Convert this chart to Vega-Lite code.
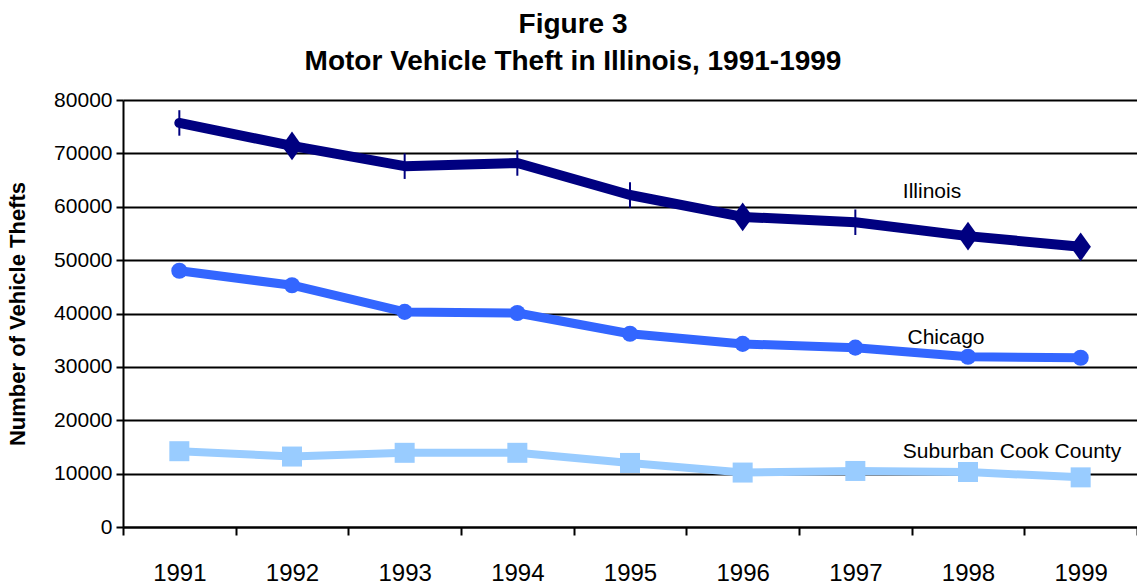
{
  "$schema": "https://vega.github.io/schema/vega-lite/v6.json",
  "width": 1014,
  "height": 427,
  "autosize": {"type": "none"},
  "padding": {"left": 123, "top": 100, "right": 0, "bottom": 61},
  "background": "white",
  "config": {"view": {"stroke": null}, "font": "Liberation Sans"},
  "title": {
    "text": ["Figure 3", "Motor Vehicle Theft in Illinois, 1991-1999"],
    "fontSize": 28,
    "fontWeight": "bold",
    "font": "Liberation Sans",
    "color": "black",
    "anchor": "middle",
    "dx": -57,
    "dy": 37,
    "offset": 28,
    "lineHeight": 37,
    "baseline": "alphabetic"
  },
  "datasets": {
    "theft": [
      {"series": "Illinois", "year": "1991", "thefts": 75700},
      {"series": "Illinois", "year": "1992", "thefts": 71400},
      {"series": "Illinois", "year": "1993", "thefts": 67600},
      {"series": "Illinois", "year": "1994", "thefts": 68200},
      {"series": "Illinois", "year": "1995", "thefts": 62200},
      {"series": "Illinois", "year": "1996", "thefts": 58100},
      {"series": "Illinois", "year": "1997", "thefts": 57100},
      {"series": "Illinois", "year": "1998", "thefts": 54500},
      {"series": "Illinois", "year": "1999", "thefts": 52500},
      {"series": "Chicago", "year": "1991", "thefts": 48000},
      {"series": "Chicago", "year": "1992", "thefts": 45300},
      {"series": "Chicago", "year": "1993", "thefts": 40300},
      {"series": "Chicago", "year": "1994", "thefts": 40100},
      {"series": "Chicago", "year": "1995", "thefts": 36200},
      {"series": "Chicago", "year": "1996", "thefts": 34300},
      {"series": "Chicago", "year": "1997", "thefts": 33600},
      {"series": "Chicago", "year": "1998", "thefts": 31900},
      {"series": "Chicago", "year": "1999", "thefts": 31700},
      {"series": "Suburban Cook County", "year": "1991", "thefts": 14200},
      {"series": "Suburban Cook County", "year": "1992", "thefts": 13200},
      {"series": "Suburban Cook County", "year": "1993", "thefts": 13900},
      {"series": "Suburban Cook County", "year": "1994", "thefts": 13900},
      {"series": "Suburban Cook County", "year": "1995", "thefts": 12000},
      {"series": "Suburban Cook County", "year": "1996", "thefts": 10200},
      {"series": "Suburban Cook County", "year": "1997", "thefts": 10500},
      {"series": "Suburban Cook County", "year": "1998", "thefts": 10300},
      {"series": "Suburban Cook County", "year": "1999", "thefts": 9300}
    ],
    "labels": [
      {"series": "Illinois", "year": "1998", "thefts": 62760},
      {"series": "Chicago", "year": "1998", "thefts": 35410},
      {"series": "Suburban Cook County", "year": "1998", "thefts": 14050}
    ]
  },
  "encoding": {
    "x": {
      "field": "year",
      "type": "ordinal",
      "scale": {"type": "band", "paddingInner": 0, "paddingOuter": 0},
      "axis": {
        "title": null,
        "labelAngle": 0,
        "labelFontSize": 24,
        "labelColor": "black",
        "labelPadding": 26,
        "domainColor": "black",
        "domainWidth": 2,
        "tickColor": "black",
        "tickWidth": 2,
        "tickSize": 8,
        "tickBand": "extent",
        "grid": false
      }
    },
    "y": {
      "field": "thefts",
      "type": "quantitative",
      "scale": {"domain": [0, 80000], "nice": false},
      "axis": {
        "title": "Number of Vehicle Thefts",
        "titleFontSize": 22,
        "titleFontWeight": "bold",
        "titleColor": "black",
        "titlePadding": 24,
        "values": [0, 10000, 20000, 30000, 40000, 50000, 60000, 70000, 80000],
        "format": "d",
        "labelFontSize": 21,
        "labelColor": "black",
        "labelPadding": 4,
        "domainColor": "black",
        "domainWidth": 2,
        "tickColor": "black",
        "tickWidth": 2,
        "tickSize": 7,
        "grid": true,
        "gridColor": "black",
        "gridWidth": 2
      }
    }
  },
  "layer": [
    {
      "data": {"name": "theft"},
      "mark": {"type": "line", "strokeCap": "round", "strokeJoin": "round"},
      "encoding": {
        "color": {
          "field": "series",
          "type": "nominal",
          "scale": {"domain": ["Illinois", "Chicago", "Suburban Cook County"], "range": ["#000080", "#3366FF", "#99CCFF"]},
          "legend": null
        },
        "strokeWidth": {
          "field": "series",
          "type": "nominal",
          "scale": {"domain": ["Illinois", "Chicago", "Suburban Cook County"], "range": [10, 8, 8]},
          "legend": null
        }
      }
    },
    {
      "data": {"name": "theft"},
      "transform": [{"filter": {"and": [{"field": "series", "equal": "Illinois"}, {"field": "year", "oneOf": ["1992", "1996", "1998", "1999"]}]}}],
      "mark": {"type": "point", "filled": true, "shape": "M0,-1.4L1,0L0,1.4L-1,0Z", "size": 420, "color": "#000080", "opacity": 1},
      "encoding": {}
    },
    {
      "data": {"name": "theft"},
      "transform": [{"filter": {"and": [{"field": "series", "equal": "Illinois"}, {"field": "year", "oneOf": ["1991", "1993", "1994", "1995", "1997"]}]}}],
      "mark": {"type": "point", "filled": false, "shape": "M0,-1L0,1", "size": 650, "stroke": "#000080", "strokeWidth": 2, "opacity": 1},
      "encoding": {}
    },
    {
      "data": {"name": "theft"},
      "transform": [{"filter": {"field": "series", "equal": "Chicago"}}],
      "mark": {"type": "circle", "size": 260, "color": "#3366FF", "opacity": 1},
      "encoding": {}
    },
    {
      "data": {"name": "theft"},
      "transform": [{"filter": {"field": "series", "equal": "Suburban Cook County"}}],
      "mark": {"type": "square", "size": 400, "color": "#99CCFF", "opacity": 1},
      "encoding": {}
    },
    {
      "data": {"name": "labels"},
      "transform": [{"filter": {"field": "series", "equal": "Illinois"}}],
      "mark": {"type": "text", "fontSize": 21, "color": "black", "align": "center", "baseline": "middle", "dx": -36},
      "encoding": {"text": {"field": "series"}}
    },
    {
      "data": {"name": "labels"},
      "transform": [{"filter": {"field": "series", "equal": "Chicago"}}],
      "mark": {"type": "text", "fontSize": 21, "color": "black", "align": "center", "baseline": "middle", "dx": -22},
      "encoding": {"text": {"field": "series"}}
    },
    {
      "data": {"name": "labels"},
      "transform": [{"filter": {"field": "series", "equal": "Suburban Cook County"}}],
      "mark": {"type": "text", "fontSize": 21, "color": "black", "align": "center", "baseline": "middle", "dx": 44},
      "encoding": {"text": {"field": "series"}}
    }
  ]
}
